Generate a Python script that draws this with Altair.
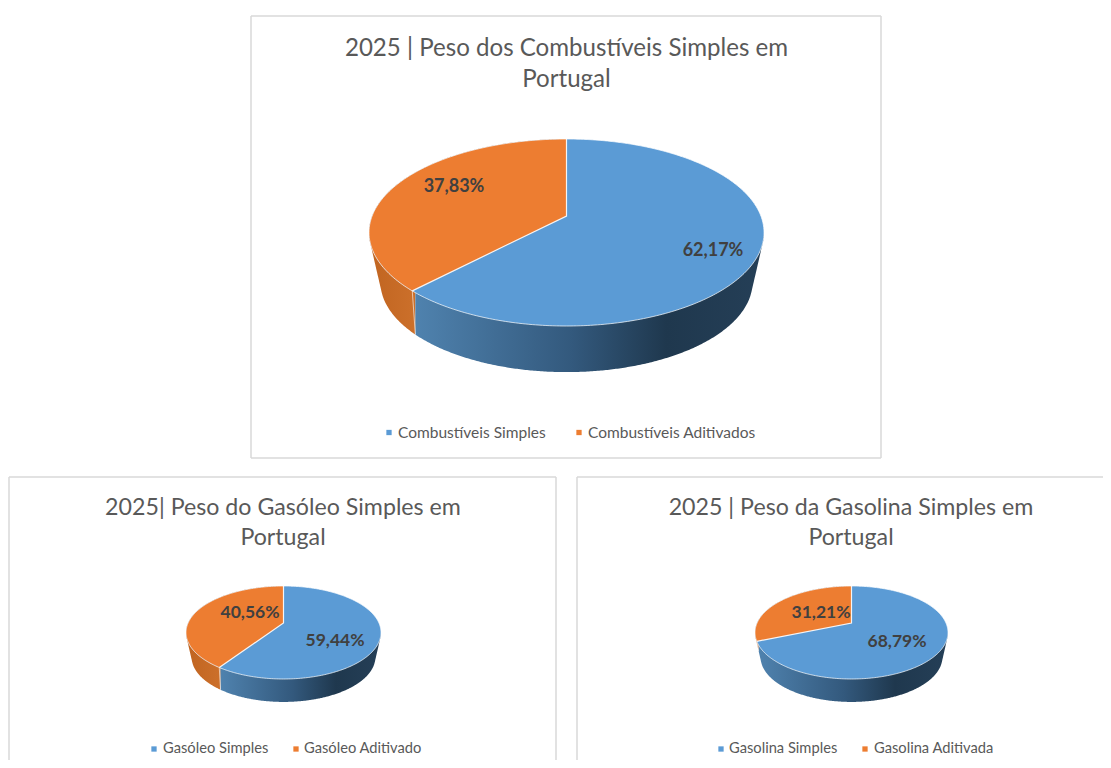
import altair as alt
import numpy as np
import pandas as pd

# ---- data ----
TITLES = [
    ["2025 | Peso dos Combustíveis Simples em", "Portugal"],
    ["2025| Peso do Gasóleo Simples em", "Portugal"],
    ["2025 | Peso da Gasolina Simples em", "Portugal"],
]
CATEGORIES = [
    ["Combustíveis Simples", "Combustíveis Aditivados"],
    ["Gasóleo Simples", "Gasóleo Aditivado"],
    ["Gasolina Simples", "Gasolina Aditivada"],
]
SIMPLE = [62.17, 59.44, 68.79]
ADDITIVE = [37.83, 40.56, 31.21]

# ---- layout, in reference pixels ----
FRAMES = [(251, 16, 881, 458, "all"), (9, 477, 556, 768, "open"), (577, 477, 1111, 768, "left")]
ELLIPSES = [(566.5, 232.5, 197.5, 93.5, 216), (283.5, 632.5, 97.5, 46.5, 623), (851.5, 632.5, 96.5, 46.5, 623)]
TITLE_POS = [(566.5, 48.5, 79.5, 24.1), (283, 508, 538, 23.2), (851, 508, 538, 23.2)]
LEGEND_POS = [(389, 398, 579, 588, 432.5, 15.5), (154, 163, 296, 304, 749, 14.7), (721, 729, 865, 874, 749, 14.7)]
LABEL_POS = [((713, 251), (454, 187)), ((335, 640.5), (250, 612.5)), ((897, 641.5), (821, 612.5))]
LABEL_SIZE = [18, 17.5, 17.5]

BLUE, ORANGE = "#5b9bd5", "#ed7d31"
BLUE_WALL = alt.Gradient(gradient="linear", x1=0, x2=1, y1=0, y2=0, stops=[
    alt.GradientStop(offset=0, color="#4f82ae"), alt.GradientStop(offset=0.45, color="#33597d"),
    alt.GradientStop(offset=0.72, color="#1f384e"), alt.GradientStop(offset=1, color="#253f57")])
ORANGE_WALL = alt.Gradient(gradient="linear", x1=0, x2=1, y1=0, y2=0, stops=[
    alt.GradientStop(offset=0, color="#c06420"), alt.GradientStop(offset=1, color="#cc702b")])
FONT = "Lato"

X = alt.X("x:Q", scale=alt.Scale(domain=[8, 1103], nice=False, zero=False), axis=None)
Y = alt.Y("y:Q", scale=alt.Scale(domain=[760, 8], nice=False, zero=False), axis=None)


def area(xs, y, y2, fill):
    df = pd.DataFrame({"x": xs, "y": y, "y2": y2})
    return alt.Chart(df).mark_area(color=fill, interpolate="linear").encode(x=X, y=Y, y2="y2:Q")


def line(xs, ys, color="#ffffff", width=1.2, opacity=0.85):
    df = pd.DataFrame({"x": xs, "y": ys, "o": range(len(xs))})
    return alt.Chart(df).mark_line(color=color, strokeWidth=width, opacity=opacity).encode(x=X, y=Y, order="o:Q")


def text(x, y, label, size, color, weight="normal", align="center"):
    df = pd.DataFrame({"x": [x], "y": [y], "t": [label]})
    return alt.Chart(df).mark_text(font=FONT, fontSize=size, color=color, fontWeight=weight,
                                   align=align, baseline="middle").encode(x=X, y=Y, text="t:N")


def pie(share_add, cx, cy, rx, ry, apex):
    # Rim position of the slice end: the true angle seen in perspective.
    c = (cy - apex) / ry
    a = (1 - np.sqrt(1 - c * c)) / c
    z = np.exp(1j * np.radians(share_add * 3.6))
    ang = np.angle((z + a) / (1 + a * z))
    ex, ey = cx - rx * np.sin(ang), cy - ry * np.cos(ang)

    rxb, ryb, cyb = rx * 0.942, ry * 0.963, cy + ry * 0.53

    def envelope(x):
        x = np.atleast_1d(x)
        out = np.full(x.shape, cy, dtype=float)
        for s in np.linspace(0, 1, 80):
            rs = rx + (rxb - rx) * s
            v = 1 - ((x - cx) / rs) ** 2
            y = cy + (cyb - cy) * s + (ry + (ryb - ry) * s) * np.sqrt(np.clip(v, 0, None))
            out = np.where(v >= 0, np.maximum(out, y), out)
        return out

    wx = cx + (ex - cx) * 0.98
    grid = cx - rx * np.cos(np.linspace(0, np.pi, 361))
    half = ry * np.sqrt(np.clip(1 - ((grid - cx) / rx) ** 2, 0, None))

    layers = []
    # side wall
    g_o = np.append(grid[grid < wx], wx)
    g_b = np.insert(grid[grid > wx], 0, wx)
    layers.append(area(g_o, np.full(g_o.shape, cy), envelope(g_o), ORANGE_WALL))
    layers.append(area(g_b, np.full(g_b.shape, cy), envelope(g_b), BLUE_WALL))
    layers.append(line([ex, wx], [ey, float(envelope(wx)[0])], width=1, opacity=0.6))
    # top face
    layers.append(area(grid, cy - half, cy + half, BLUE))
    g_s = np.sort(np.concatenate([grid[grid <= cx], [ex, cx]]))
    top = cy - ry * np.sqrt(np.clip(1 - ((g_s - cx) / rx) ** 2, 0, None))
    rim = cy + ry * np.sqrt(np.clip(1 - ((g_s - cx) / rx) ** 2, 0, None))
    chord = apex + (ey - apex) * (cx - g_s) / (cx - ex)
    low = np.where(g_s <= ex, rim, chord)
    layers.append(area(g_s, top, low, ORANGE))
    # thin pale edges
    t = np.linspace(0, 2 * np.pi, 361)
    layers.append(line(cx + rx * np.cos(t), cy + ry * np.sin(t), width=1, opacity=0.7))
    layers.append(line([cx, cx, ex], [cy - ry, apex, ey], width=1.2, opacity=0.9))
    return layers


layers = []
for (x0, y0, x1, y1, kind) in FRAMES:
    seg = [(x0, y0, x1, y0), (x0, y0, x0, y1)]
    if kind != "left":
        seg.append((x1, y0, x1, y1))
    if kind == "all":
        seg.append((x0, y1, x1, y1))
    for sx, sy, sx2, sy2 in seg:
        df = pd.DataFrame({"x": [sx], "y": [sy], "x2": [sx2], "y2": [sy2]})
        layers.append(alt.Chart(df).mark_rule(color="#d9d9d9", strokeWidth=1.5).encode(x=X, y=Y, x2="x2:Q", y2="y2:Q"))

for i in range(3):
    cx, cy, rx, ry, apex = ELLIPSES[i]
    layers += pie(ADDITIVE[i], cx, cy, rx, ry, apex)
    tx, ty1, ty2, size = TITLE_POS[i]
    layers.append(text(tx, ty1, TITLES[i][0], size, "#595959"))
    layers.append(text(tx, ty2, TITLES[i][1], size, "#595959"))
    (px, py), (qx, qy) = LABEL_POS[i]
    fmt = lambda v: f"{v:.2f}".replace(".", ",") + "%"
    layers.append(text(px, py, fmt(SIMPLE[i]), LABEL_SIZE[i], "#404040", "bold"))
    layers.append(text(qx, qy, fmt(ADDITIVE[i]), LABEL_SIZE[i], "#404040", "bold"))
    m1, t1, m2, t2, ly, ls = LEGEND_POS[i]
    for mx, lx, name, col in ((m1, t1, CATEGORIES[i][0], BLUE), (m2, t2, CATEGORIES[i][1], ORANGE)):
        df = pd.DataFrame({"x": [mx], "y": [ly]})
        layers.append(alt.Chart(df).mark_square(size=28, color=col, opacity=1).encode(x=X, y=Y))
        layers.append(text(lx, ly, name, ls, "#595959", align="left"))

chart = alt.layer(*layers).properties(
    width=1095, height=752, padding=0, background="#ffffff",
    autosize=alt.AutoSizeParams(type="none"),
).configure_view(stroke=None)
chart.save("out.html", embed_options={"renderer": "svg", "actions": False})
